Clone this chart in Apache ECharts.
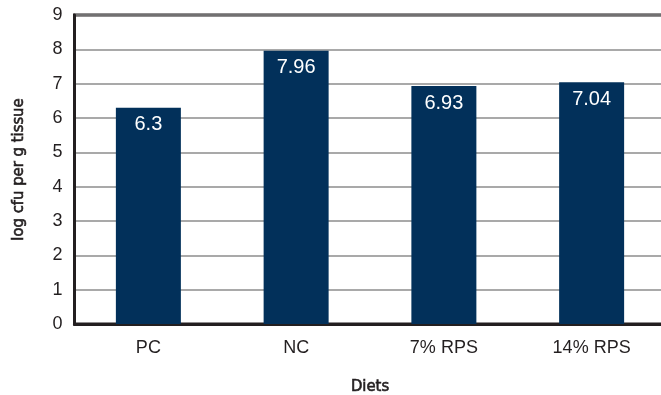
<!DOCTYPE html>
<html>
<head>
<meta charset="utf-8">
<script src="https://cdn.jsdelivr.net/npm/echarts@6/dist/echarts.min.js"></script>
<style>
  html, body { margin: 0; padding: 0; background: #fff; }
  #chart { width: 661px; height: 395px; }
</style>
</head>
<body>
<div id="chart"></div>
<script>
// Diet groups and bacterial load (log cfu per g tissue)
const diets = ['PC', 'NC', '7% RPS', '14% RPS'];
const logCfu = [6.3, 7.96, 6.93, 7.04];
const yTicks = { min: 0, max: 9, step: 1 };

const axisDark = '#231f20';
const barBlue = '#02305a';
// medium-weight condensed face for the axis titles
const nameFont = {
  fontFamily: 'DejaVu Sans Condensed', fontSize: 16.5, color: '#231f20',
  fontWeight: 'normal', textBorderColor: '#231f20', textBorderWidth: 0.6
};

const chart = echarts.init(document.getElementById('chart'), null, { renderer: 'canvas' });
chart.setOption({
  animation: false,
  backgroundColor: '#ffffff',
  grid: {
    left: 74.5, top: 15, width: 591, height: 309,
    outerBoundsMode: 'none',
    containLabel: false,
    show: true, borderColor: axisDark, borderWidth: 3, backgroundColor: 'transparent'
  },
  xAxis: {
    type: 'category',
    data: diets,
    name: 'Diets',
    nameLocation: 'middle',
    nameGap: 54,
    nameTextStyle: nameFont,
    axisLine: { show: true, lineStyle: { color: axisDark, width: 3 } },
    axisTick: { show: false },
    axisLabel: { fontFamily: 'Liberation Sans', fontSize: 18, color: '#231f20', margin: 15 }
  },
  yAxis: {
    type: 'value',
    min: yTicks.min, max: yTicks.max, interval: yTicks.step,
    name: 'log cfu per g tissue',
    nameLocation: 'middle',
    nameGap: 47,
    nameTextStyle: nameFont,
    axisLine: { show: true, lineStyle: { color: axisDark, width: 3 } },
    axisTick: { show: false },
    axisLabel: { fontFamily: 'Liberation Sans', fontSize: 18, color: '#231f20', margin: 12 },
    splitLine: { show: true, lineStyle: { color: '#8c8c8c', width: 1.5 } }
  },
  series: [{
    type: 'bar',
    data: logCfu,
    barWidth: 65,
    itemStyle: { color: barBlue },
    label: {
      show: true,
      position: 'insideTop',
      distance: 7,
      color: '#ffffff',
      fontFamily: 'Liberation Sans',
      fontSize: 20,
      formatter: p => String(p.value)
    }
  }]
});
</script>
</body>
</html>
